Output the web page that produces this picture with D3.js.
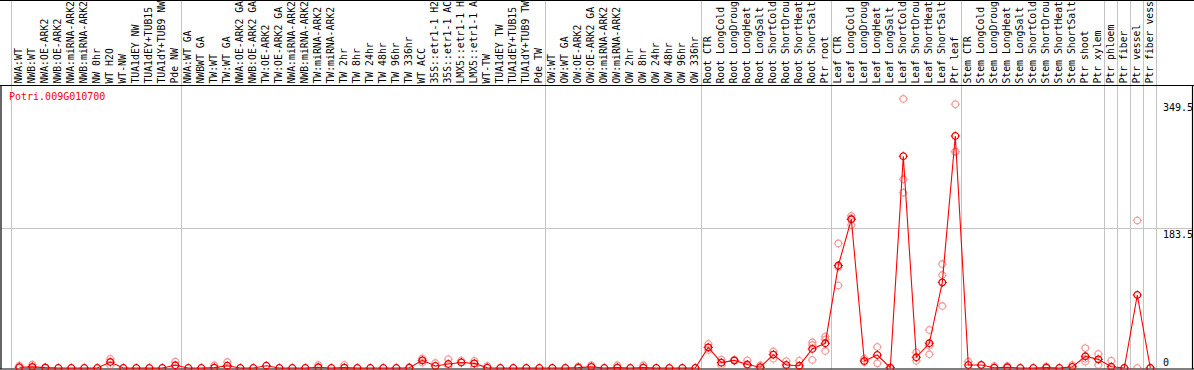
<!DOCTYPE html>
<html>
<head>
<meta charset="utf-8">
<script src="https://cdn.jsdelivr.net/npm/d3@7"></script>
<style>
  html, body { margin: 0; padding: 0; background: #fff; }
  svg { display: block; }
</style>
</head>
<body>
<svg id="chart" width="1194" height="370"></svg>
<script>
// ---------------- data ----------------
const geneName = "Potri.009G010700";

const categories = [
  "NWA:WT","NWB:WT","NWA:OE-ARK2","NWB:OE-ARK2","NWA:miRNA-ARK2","NWB:miRNA-ARK2","NW 0hr","WT H2O","WT-NW","TUA1dEY NW","TUA1dEY+TUB15","TUA1dY+TUB9 NW","Pde NW",
  "NWA:WT GA","NWBWT GA","TW:WT","TW:WT GA","NWA:OE-ARK2 GA","NWB:OE-ARK2 GA","TW:OE-ARK2","TW:OE-ARK2 GA","NWA:miRNA-ARK2","NWB:miRNA-ARK2","TW:miRNA-ARK2","TW:miRNA-ARK2","TW 2hr","TW 8hr","TW 24hr","TW 48hr","TW 96hr","TW 336hr","WT ACC","35S::etr1-1 H2","35S::etr1-1 AC","LMX5::etr1-1 H","LMX5::etr1-1 A","WT-TW","TUA1dEY TW","TUA1dEY+TUB15","TUA1dY+TUB9 TW","Pde TW",
  "OW:WT","OW:WT GA","OW:OE-ARK2","OW:OE-ARK2 GA","OW:miRNA-ARK2","OW:miRNA-ARK2","OW 2hr","OW 8hr","OW 24hr","OW 48hr","OW 96hr","OW 336hr",
  "Root CTR","Root LongCold","Root LongDroug","Root LongHeat","Root LongSalt","Root ShortCold","Root ShortDrou","Root ShortHeat","Root ShortSalt","Ptr root",
  "Leaf CTR","Leaf LongCold","Leaf LongDroug","Leaf LongHeat","Leaf LongSalt","Leaf ShortCold","Leaf ShortDrou","Leaf ShortHeat","Leaf ShortSalt","Ptr leaf",
  "Stem CTR","Stem LongCold","Stem LongDroug","Stem LongHeat","Stem LongSalt","Stem ShortCold","Stem ShortDrou","Stem ShortHeat","Stem ShortSalt","Ptr shoot","Ptr xylem","Ptr phloem","Ptr fiber","Ptr vessel","Ptr fiber vess"
];

const means = [
  1, 1.5, 0.5, 0, 0, 0, 0, 7.8, 0, 0, 0, 0, 3.5,
  0, 0, 0.5, 3, 0, 0, 3, 0, 0, 0, 0.9, 0, 0.5, 0, 0, 0, 0, 0.3, 10, 2.6, 5.2, 7.2, 6, 0.4, 0, 0, 0, 0,
  0, 0, 0.5, 1.5, 0, 0.5, 0, 0.5, 0, 0, 0, 0,
  27, 7, 10, 4.5, 1, 17.5, 4, 3, 25, 32.3,
  134, 194.5, 9.2, 17, 0.4, 277, 14, 32.3, 112, 303.5,
  3.9, 3.9, 0.3, 0.9, 0, 0, 0.5, 0, 1.5, 15.3, 11.3, 1.7, 0, 95.5, 0
];

const replicates = [
  [3, 0], [4.4, 0], [1], [], [], [], [], [11.8, 3.5], [], [], [], [], [8.3, 0],
  [], [], [3.5], [7.8, 0], [], [], [], [], [], [], [3.9], [], [3.9], [], [], [], [], [1], [12.5, 7], [6.5], [11.5, 2.6], [9.5], [9.2, 1.7], [2.6], [], [], [], [],
  [], [], [2], [3.5], [], [3.5], [], [3.5], [], [], [], [],
  [31.4, 23.5, 27], [11, 3.5], [10.5, 9.5], [10, 3], [3.5, 0], [21.5, 12], [9, 1], [9.5, 0], [33.6, 30, 10.5], [41, 37.5, 22.2],
  [163, 108, 132], [199, 187, 196], [12.2, 7.8], [27.5, 6.1], [0, 0], [352, 246.8, 229.3], [20.5, 9.5], [49.7, 29.2, 17.9], [136, 121.6, 81], [345, 283, 283],
  [8.3, 0], [3.9], [2.6], [2.6], [], [], [2], [], [4], [26, 8.3, 12], [18.3, 3.9], [9.5, 0], [0], [193, 0], [0]
];

const separatorsAfter = [12, 40, 52, 62, 72, 83, 84, 85, 86, 87];
const yTickValues = [0, 183.5, 349.5];
const yGridValues = [183.5];

// ---------------- drawing ----------------
const W = 1194, H = 370;
const headerBottom = 85.5, plotBottom = 369;
const svg = d3.select("#chart");
const font = "'DejaVu Sans Mono', 'Liberation Mono', monospace";

const x = d3.scaleLinear().domain([0, categories.length - 1]).range([19.3, 19.3 + 13 * (categories.length - 1)]);
const y = d3.scaleLinear().domain([0, 349.5]).range([368, 100.8]);

const gridColor = "#c4c4c4";

// vertical gridlines
const vLines = [x(0) - 8.8].concat(separatorsAfter.map(i => x(i) + 5.4));
svg.append("g").selectAll("line").data(vLines).join("line")
  .attr("x1", d => Math.round(d) + 0.5).attr("x2", d => Math.round(d) + 0.5)
  .attr("y1", 0).attr("y2", plotBottom)
  .attr("stroke", gridColor).attr("stroke-width", 1);

// horizontal gridlines
svg.append("g").selectAll("line").data(yGridValues).join("line")
  .attr("x1", 1).attr("x2", W - 1)
  .attr("y1", d => Math.round(y(d)) + 0.5).attr("y2", d => Math.round(y(d)) + 0.5)
  .attr("stroke", gridColor).attr("stroke-width", 1);

// frame
const frame = svg.append("g").attr("stroke", "#000").attr("stroke-width", 1.2);
frame.append("line").attr("x1", 0).attr("x2", W).attr("y1", 0.5).attr("y2", 0.5);
frame.append("line").attr("x1", 0).attr("x2", W).attr("y1", headerBottom).attr("y2", headerBottom);
frame.append("line").attr("x1", 0).attr("x2", W).attr("y1", plotBottom).attr("y2", plotBottom);
frame.append("line").attr("x1", 1).attr("x2", 1).attr("y1", headerBottom).attr("y2", plotBottom);
frame.append("line").attr("x1", W - 1.5).attr("x2", W - 1.5).attr("y1", headerBottom).attr("y2", plotBottom);

// category labels (rotated)
svg.append("g")
  .selectAll("text").data(categories).join("text")
  .attr("transform", (d, i) => `translate(${x(i) + 2.8},${83.6}) rotate(-90)`)
  .attr("font-family", font).attr("font-size", "9.8px").attr("fill", "#000")
  .text(d => d);

// title
svg.append("text").attr("x", 9).attr("y", 100)
  .attr("font-family", font).attr("font-size", "10px").attr("fill", "#ff0000")
  .text(geneName);

// right axis labels
const axis = d3.axisRight(y).tickValues(yTickValues).tickSize(0).tickPadding(0)
  .tickFormat(d => String(d));
const ag = svg.append("g").attr("transform", "translate(1163,0)").call(axis);
ag.select(".domain").remove();
ag.selectAll("text")
  .attr("font-family", font).attr("font-size", "10px").attr("fill", "#000")
  .attr("dy", d => d === 0 ? "-2.5" : "9.5");

// marker helper: circle with small outward ticks
function marker(g, cx, cy, color, r) {
  const m = g.append("g").attr("transform", `translate(${cx},${cy})`)
    .attr("stroke", color).attr("fill", "none");
  m.append("circle").attr("r", r).attr("stroke-width", 1.3);
  m.append("path").attr("stroke-width", 1)
    .attr("d", `M0,${-r - 1.3}V${-r}M0,${r}V${r + 1.3}M${-r - 1.3},0H${-r}M${r},0H${r + 1.3}`);
}

// replicates
const repG = svg.append("g").attr("opacity", 0.55);
replicates.forEach((reps, i) => {
  reps.forEach(v => marker(repG, x(i), y(v), "#e85050", 3.3));
});

// mean line
const line = d3.line().x((d, i) => x(i)).y(d => y(d));
svg.append("path").datum(means).attr("d", line)
  .attr("fill", "none").attr("stroke", "#ff0000").attr("stroke-width", 1.1);

// means
const meanG = svg.append("g");
means.forEach((v, i) => marker(meanG, x(i), y(v), "#ee0000", 3.3));
</script>
</body>
</html>
